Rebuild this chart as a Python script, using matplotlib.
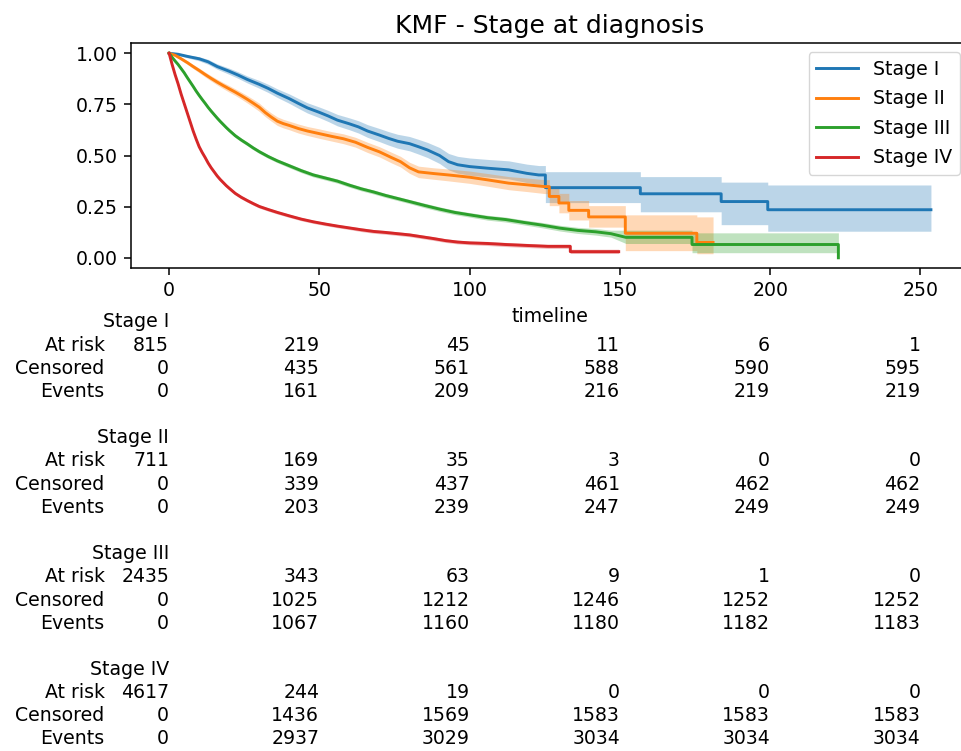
import matplotlib
matplotlib.use("Agg")
import matplotlib.pyplot as plt
import matplotlib.transforms as mtransforms
from matplotlib.ticker import FormatStrFormatter

# survival curves: time, S, ci lower, ci upper
# (repeated times are the corners of the late KM steps)
t_1 = [0, 3, 6, 10, 13, 16, 20, 23, 26, 30, 33, 36, 40, 43, 46, 50, 53, 56, 60, 63,
       66, 70, 73, 76, 80, 83, 86, 90, 93, 96, 100, 106, 113, 119, 123,
       125.2, 125.2, 156.8, 156.8, 183.7, 183.7, 199.2, 199.2, 253.5]
s_1 = [1.0, 0.995, 0.985, 0.973, 0.958, 0.935, 0.912, 0.893, 0.872, 0.848, 0.828, 0.805, 0.778, 0.755, 0.733, 0.711, 0.693, 0.673, 0.655, 0.64,
       0.62, 0.60, 0.584, 0.57, 0.558, 0.543, 0.527, 0.50, 0.47, 0.455, 0.446, 0.438, 0.43, 0.413, 0.405,
       0.405, 0.343, 0.343, 0.313, 0.313, 0.275, 0.275, 0.235, 0.235]
lo_1 = [1.0, 0.99, 0.978, 0.963, 0.946, 0.922, 0.897, 0.877, 0.855, 0.829, 0.808, 0.784, 0.755, 0.731, 0.708, 0.685, 0.666, 0.645, 0.626, 0.61,
        0.589, 0.568, 0.551, 0.536, 0.523, 0.507, 0.49, 0.461, 0.43, 0.414, 0.404, 0.395, 0.386, 0.368, 0.359,
        0.359, 0.27, 0.27, 0.225, 0.225, 0.162, 0.162, 0.13, 0.13]
hi_1 = [1.0, 1.0, 0.992, 0.983, 0.97, 0.948, 0.927, 0.909, 0.889, 0.867, 0.848, 0.826, 0.801, 0.779, 0.758, 0.737, 0.72, 0.701, 0.684, 0.67,
        0.651, 0.632, 0.617, 0.604, 0.593, 0.579, 0.564, 0.539, 0.51, 0.496, 0.488, 0.481, 0.474, 0.458, 0.451,
        0.451, 0.421, 0.421, 0.397, 0.397, 0.37, 0.37, 0.356, 0.356]

t_2 = [0, 2, 4, 6, 8, 10, 12, 14, 16, 18, 20, 22, 24, 26, 28, 30, 32, 34, 36, 38, 40,
       43, 46, 50, 54, 58, 62, 66, 70, 74, 77, 80, 83, 88, 93,
       100, 106, 113, 119, 125, 126.5, 126.5, 129.7, 129.7, 133, 133, 139.6, 139.6,
       151.8, 151.8, 175.6, 175.6, 181]
s_2 = [1.0, 0.99, 0.973, 0.955, 0.935, 0.916, 0.896, 0.877, 0.859, 0.842, 0.826, 0.81, 0.793, 0.775, 0.756, 0.736, 0.71, 0.688, 0.668, 0.656, 0.647,
       0.632, 0.62, 0.607, 0.594, 0.582, 0.565, 0.54, 0.518, 0.49, 0.47, 0.44, 0.42, 0.412, 0.405,
       0.394, 0.381, 0.365, 0.357, 0.348, 0.348, 0.30, 0.30, 0.268, 0.268, 0.232, 0.232, 0.20,
       0.20, 0.12, 0.12, 0.075, 0.075]
lo_2 = [1.0, 0.985, 0.965, 0.946, 0.925, 0.905, 0.884, 0.864, 0.845, 0.827, 0.81, 0.794, 0.776, 0.757, 0.737, 0.716, 0.69, 0.668, 0.647, 0.635, 0.626,
        0.61, 0.598, 0.584, 0.571, 0.558, 0.541, 0.515, 0.493, 0.464, 0.444, 0.413, 0.392, 0.384, 0.376,
        0.364, 0.35, 0.333, 0.324, 0.314, 0.314, 0.255, 0.255, 0.22, 0.22, 0.185, 0.185, 0.15,
        0.15, 0.035, 0.035, 0.02, 0.02]
hi_2 = [1.0, 0.995, 0.981, 0.964, 0.945, 0.927, 0.908, 0.89, 0.873, 0.857, 0.842, 0.826, 0.81, 0.793, 0.775, 0.756, 0.73, 0.708, 0.689, 0.677, 0.668,
        0.654, 0.642, 0.63, 0.617, 0.606, 0.589, 0.565, 0.543, 0.516, 0.496, 0.467, 0.448, 0.44, 0.434,
        0.424, 0.412, 0.397, 0.39, 0.382, 0.382, 0.345, 0.345, 0.315, 0.315, 0.28, 0.28, 0.255,
        0.255, 0.21, 0.21, 0.2, 0.2]

t_3 = [0, 1, 2, 3, 4, 5, 6, 7, 8, 9, 10, 11, 12, 13, 14, 15, 16, 17, 18, 19, 20,
       22, 24, 26, 28, 30, 33, 36, 40, 44, 48, 52, 56, 60, 64, 68, 72, 76, 80,
       85, 90, 95, 100, 106, 112, 118, 124, 130, 136, 142, 147, 152, 174, 174, 222.7, 222.7]
s_3 = [1.0, 0.98, 0.962, 0.945, 0.925, 0.905, 0.882, 0.86, 0.838, 0.815, 0.794, 0.774, 0.755, 0.735, 0.717, 0.70, 0.683, 0.667, 0.652, 0.637, 0.623,
       0.597, 0.576, 0.557, 0.537, 0.519, 0.495, 0.474, 0.45, 0.426, 0.405, 0.39, 0.375, 0.355, 0.337, 0.322, 0.305, 0.29, 0.275,
       0.256, 0.238, 0.222, 0.21, 0.196, 0.187, 0.173, 0.16, 0.145, 0.134, 0.127, 0.118, 0.10, 0.10, 0.065, 0.065, 0.0]
lo_3 = [1.0, 0.975, 0.956, 0.939, 0.918, 0.898, 0.875, 0.853, 0.83, 0.807, 0.786, 0.766, 0.747, 0.727, 0.709, 0.692, 0.675, 0.659, 0.644, 0.629, 0.615,
        0.588, 0.567, 0.548, 0.528, 0.51, 0.486, 0.465, 0.44, 0.416, 0.395, 0.38, 0.365, 0.345, 0.327, 0.312, 0.295, 0.28, 0.265,
        0.245, 0.227, 0.211, 0.199, 0.184, 0.175, 0.161, 0.147, 0.131, 0.119, 0.111, 0.101, 0.07, 0.07, 0.025, 0.025, 0.025]
hi_3 = [1.0, 0.985, 0.968, 0.951, 0.932, 0.912, 0.889, 0.867, 0.846, 0.823, 0.802, 0.782, 0.763, 0.743, 0.725, 0.708, 0.691, 0.675, 0.66, 0.645, 0.631,
        0.606, 0.585, 0.566, 0.546, 0.528, 0.504, 0.483, 0.46, 0.436, 0.415, 0.40, 0.385, 0.365, 0.347, 0.332, 0.315, 0.30, 0.285,
        0.267, 0.249, 0.233, 0.221, 0.208, 0.199, 0.185, 0.173, 0.159, 0.149, 0.143, 0.135, 0.135, 0.135, 0.122, 0.122, 0.122]

t_4 = [0, 1, 2, 3, 4, 5, 6, 7, 8, 9, 10, 11, 12, 13, 14, 15, 16, 17, 18, 19, 20,
       22, 24, 26, 28, 30, 33, 36, 40, 44, 48, 52, 56, 60, 64, 68, 72, 76, 80,
       84, 88, 92, 96, 100, 106, 112, 118, 126, 133.5, 133.5, 149.6]
s_4 = [1.0, 0.945, 0.895, 0.85, 0.80, 0.755, 0.71, 0.665, 0.62, 0.58, 0.543, 0.515, 0.49, 0.463, 0.44, 0.42, 0.40, 0.383, 0.368, 0.353, 0.34,
       0.315, 0.296, 0.28, 0.265, 0.251, 0.236, 0.222, 0.205, 0.189, 0.176, 0.165, 0.155, 0.146, 0.137, 0.129, 0.124, 0.118, 0.112,
       0.103, 0.094, 0.084, 0.077, 0.073, 0.07, 0.065, 0.061, 0.056, 0.056, 0.03, 0.03]
lo_4 = [1.0, 0.939, 0.888, 0.842, 0.792, 0.747, 0.702, 0.657, 0.612, 0.572, 0.535, 0.507, 0.482, 0.455, 0.432, 0.412, 0.392, 0.375, 0.36, 0.345, 0.332,
        0.307, 0.288, 0.272, 0.257, 0.243, 0.228, 0.214, 0.197, 0.181, 0.168, 0.157, 0.147, 0.138, 0.128, 0.12, 0.115, 0.109, 0.103,
        0.094, 0.085, 0.075, 0.068, 0.064, 0.06, 0.055, 0.051, 0.046, 0.046, 0.021, 0.021]
hi_4 = [1.0, 0.951, 0.902, 0.858, 0.808, 0.763, 0.718, 0.673, 0.628, 0.588, 0.551, 0.523, 0.498, 0.471, 0.448, 0.428, 0.408, 0.391, 0.376, 0.361, 0.348,
        0.323, 0.304, 0.288, 0.273, 0.259, 0.244, 0.23, 0.213, 0.197, 0.184, 0.173, 0.163, 0.154, 0.146, 0.138, 0.133, 0.127, 0.121,
        0.112, 0.103, 0.093, 0.086, 0.082, 0.08, 0.075, 0.071, 0.066, 0.066, 0.042, 0.042]

stages = ['Stage I', 'Stage II', 'Stage III', 'Stage IV']
table_ticks = [0, 50, 100, 150, 200, 250]
at_risk = [[815, 219, 45, 11, 6, 1],
           [711, 169, 35, 3, 0, 0],
           [2435, 343, 63, 9, 1, 0],
           [4617, 244, 19, 0, 0, 0]]
censored = [[0, 435, 561, 588, 590, 595],
            [0, 339, 437, 461, 462, 462],
            [0, 1025, 1212, 1246, 1252, 1252],
            [0, 1436, 1569, 1583, 1583, 1583]]
events = [[0, 161, 209, 216, 219, 219],
          [0, 203, 239, 247, 249, 249],
          [0, 1067, 1160, 1180, 1182, 1183],
          [0, 2937, 3029, 3034, 3034, 3034]]

fs = 13.6
plt.rcParams.update({
    'font.size': fs,
    'axes.linewidth': 1.1,
    'xtick.major.size': 4.7, 'ytick.major.size': 4.7,
    'xtick.major.width': 1.1, 'ytick.major.width': 1.1,
    'xtick.major.pad': 4.5, 'ytick.major.pad': 4.5,
})

fig = plt.figure(figsize=(9.62, 7.51), dpi=100)
# right edge of the axes runs past the figure, like the cropped original
ax = fig.add_axes([0.1362, 0.6431, 0.8711, 0.2996])

colors = ['#1f77b4', '#ff7f0e', '#2ca02c', '#d62728']
curves = [(t_1, s_1, lo_1, hi_1), (t_2, s_2, lo_2, hi_2),
          (t_3, s_3, lo_3, hi_3), (t_4, s_4, lo_4, hi_4)]
for name, (t, s, lo, hi), c in zip(stages, curves, colors):
    ax.fill_between(t, lo, hi, color=c, alpha=0.3, linewidth=0)
    ax.plot(t, s, color=c, lw=2.1, label=name)

ax.set_xticks(table_ticks)
ax.set_yticks([0, 0.25, 0.5, 0.75, 1.0])
ax.yaxis.set_major_formatter(FormatStrFormatter('%.2f'))
ax.set_xlabel('timeline', labelpad=5)
ax.set_title('KMF - Stage at diagnosis', fontsize=18, pad=7)
ax.legend(loc='upper right', fontsize=fs, handlelength=2.2, labelspacing=0.55)

# at-risk table under the plot
trans = mtransforms.blended_transform_factory(ax.transData, fig.transFigure)
H = 751.0
for g, name in enumerate(stages):
    top = 322 + 115.8 * g
    ax.text(0, 1 - top / H, name, transform=trans, ha='right', va='center')
    rows = [('At risk', at_risk[g]), ('Censored', censored[g]), ('Events', events[g])]
    for r, (lab, vals) in enumerate(rows):
        y = 1 - (top + 23.2 * (r + 1)) / H
        ax.text(-21.5, y, lab, transform=trans, ha='right', va='center')
        for tk, v in zip(table_ticks, vals):
            ax.text(tk, y, str(v), transform=trans, ha='right', va='center')

fig.savefig('out.png', dpi=100)
